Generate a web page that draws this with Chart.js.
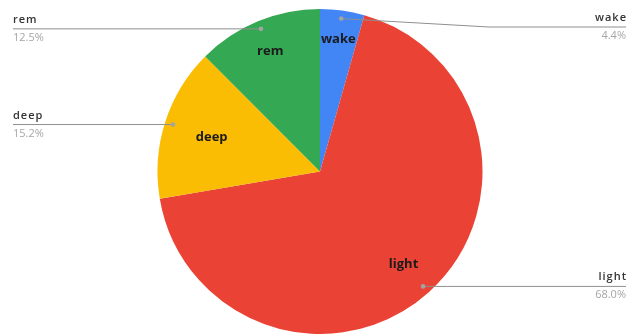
<!DOCTYPE html>
<html>
<head>
<meta charset="utf-8">
<script src="https://cdn.jsdelivr.net/npm/chart.js@4"></script>
<style>
  html, body { margin: 0; padding: 0; background: #fff; }
  #wrap { width: 633px; height: 334px; position: relative; }
</style>
</head>
<body>
<div id="wrap"><canvas id="myChart" width="633" height="334"></canvas></div>
<script>
const stages = ['wake', 'light', 'deep', 'rem'];
const shares = [4.4, 68.0, 15.2, 12.5];
const shareLabels = ['4.4%', '68.0%', '15.2%', '12.5%'];

const colors = ['#4285F4', '#EA4335', '#FBBC04', '#34A853'];
// how far out (fraction of radius) each inner label sits
const innerPos = [0.82, 0.77, 0.70, 0.80];

// leader lines + callout labels
const calloutPlugin = {
    id: 'callouts',
    afterDatasetsDraw(chart) {
        const ctx = chart.ctx;
        const arcs = chart.getDatasetMeta(0).data;
        const W = chart.width;
        ctx.save();
        arcs.forEach((arc, i) => {
            const p = arc.getProps(['x', 'y', 'startAngle', 'endAngle', 'outerRadius'], true);
            const mid = (p.startAngle + p.endAngle) / 2;
            const R = p.outerRadius;

            // label inside the slice
            ctx.font = 'bold 13px "Open Sans", sans-serif';
            ctx.fillStyle = '#1b1b1b';
            ctx.textAlign = 'center';
            ctx.textBaseline = 'middle';
            ctx.fillText(stages[i], p.x + Math.cos(mid) * R * innerPos[i], p.y + Math.sin(mid) * R * innerPos[i]);

            // dot and leader line
            const dx = p.x + Math.cos(mid) * R * 0.95;
            const dy = p.y + Math.sin(mid) * R * 0.95;
            const right = Math.cos(mid) > 0;
            const lineY = Math.max(dy, 27);
            const endX = right ? W - 7 : 13;
            const bendX = right ? p.x + R * 1.04 : p.x - R * 1.04;

            ctx.strokeStyle = '#8f8f8f';
            ctx.lineWidth = 1;
            ctx.beginPath();
            ctx.moveTo(dx, dy);
            if (lineY !== dy) ctx.lineTo(bendX, lineY);
            ctx.lineTo(endX, lineY);
            ctx.stroke();

            ctx.fillStyle = '#a3a3a3';
            ctx.beginPath();
            ctx.arc(dx, dy, 2.3, 0, Math.PI * 2);
            ctx.fill();

            ctx.textAlign = right ? 'right' : 'left';
            ctx.textBaseline = 'alphabetic';
            ctx.letterSpacing = '1px';
            ctx.font = '600 11px "Open Sans", sans-serif';
            ctx.fillStyle = '#333';
            ctx.fillText(stages[i], endX + (right ? 1 : 0), lineY - 6);
            ctx.letterSpacing = '0px';
            ctx.font = '11px "Open Sans", sans-serif';
            ctx.fillStyle = '#a6a6a6';
            ctx.fillText(shareLabels[i], endX, lineY + 12);
        });
        ctx.restore();
    }
};

new Chart(document.getElementById('myChart'), {
    type: 'pie',
    data: {
        labels: stages,
        datasets: [{
            data: shares,
            backgroundColor: colors,
            borderWidth: 0
        }]
    },
    options: {
        responsive: false,
        animation: false,
        layout: {
            padding: { top: 9, bottom: -1, left: 157, right: 150 }
        },
        plugins: {
            legend: { display: false },
            tooltip: { enabled: false }
        }
    },
    plugins: [calloutPlugin]
});
</script>
</body>
</html>
